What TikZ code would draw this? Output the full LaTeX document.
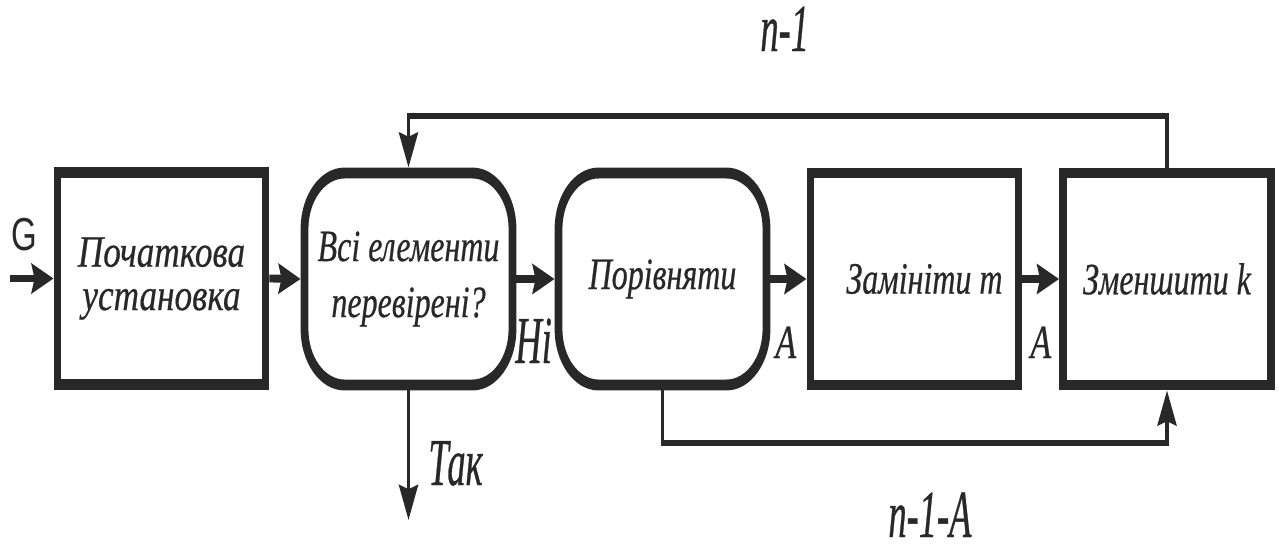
\documentclass[tikz,border=0pt]{standalone}
\usepackage{fontspec}
\setmainfont{Liberation Serif}
\newfontfamily\boxf{Liberation Serif}[FakeBold=0.6]
\newfontfamily\boxw{Liberation Serif}[FakeBold=0.6, FakeStretch=1.1]
\newfontfamily\labf{Liberation Serif}[FakeBold=0.6, FakeStretch=0.76]
\newfontfamily\sansG{Liberation Sans}
\usetikzlibrary{arrows.meta}
\definecolor{ink}{RGB}{40,40,40}
\begin{document}
\begin{tikzpicture}
\useasboundingbox (0,0) rectangle (639.5pt,-273.5pt);
\begin{scope}[x=0.5pt,y=-0.357143pt,transform canvas={yscale=1.4},
  blk/.style={draw=ink, line width=3.9pt, minimum width=104pt, minimum height=75.7pt,
    inner sep=0pt, font=\boxf\itshape\fontsize{16}{15.5}\selectfont, align=center, text=ink},
  rblk/.style={blk, rounded corners=20pt},
  flow/.style={draw=ink, line width=2.8pt, -{Stealth[length=11pt,width=10.5pt,inset=1.5pt]}},
  fba/.style={draw=ink, line width=1.9pt, -{Stealth[length=12.5pt,width=9.5pt,inset=1.5pt]}},
  lab/.style={font=\labf\itshape\fontsize{24}{24}\selectfont, inner sep=0pt, text=ink},
  slab/.style={font=\boxf\itshape\fontsize{17}{17}\selectfont, inner sep=0pt, text=ink}]

\node[blk, font=\boxw\itshape\fontsize{16}{15.5}\selectfont] (init) at (161.5,278.5) {Початкова\\установка};
\node[rblk, font=\boxf\itshape\fontsize{16}{20}\selectfont] (check) at (408.5,279) {Всі елементи\\перевірені?};
\node[rblk] (cmp) at (662.5,279) {Порівняти};
\node[blk] (rep) at (914.5,279) {\hspace*{10pt}Замініти m};
\node[blk] (dec) at (1167,279) {Зменшити k};

\coordinate (gin) at (10,278.5);
\coordinate (top) at (0,116);
\coordinate (bot) at (0,443);
\coordinate (yes) at (408.5,520);

\node[inner sep=0pt, anchor=base west, font=\sansG\fontsize{16.5}{16.5}\selectfont, text=ink] (g) at (11,250) {G};
\node[lab, anchor=base west] (no) at (515,363) {Ні};
\node[slab, anchor=base west] (a1) at (775,358) {A};
\node[slab, anchor=base west] (a2) at (1030,358) {A};
\node[lab, anchor=base west] (tak) at (428,485) {Так};
\node[lab, anchor=base west] (n1) at (760,51) {n-1};
\node[lab, anchor=base west] (n1a) at (888,537) {n-1-A};

\draw[flow] (gin) -- (init.west);
\draw[flow] (init.east) -- (check.west);
\draw[flow] (check.east) -- (cmp.west);
\draw[flow] (cmp.east) -- (rep.west);
\draw[flow] (rep.east) -- (dec.west);

\draw[fba] (dec.north) |- (check.north |- top) -- (check.north);
\draw[fba] (cmp.south) |- (dec.south |- bot) -- (dec.south);
\draw[fba] (check.south) -- (yes);
\end{scope}
\end{tikzpicture}
\end{document}
